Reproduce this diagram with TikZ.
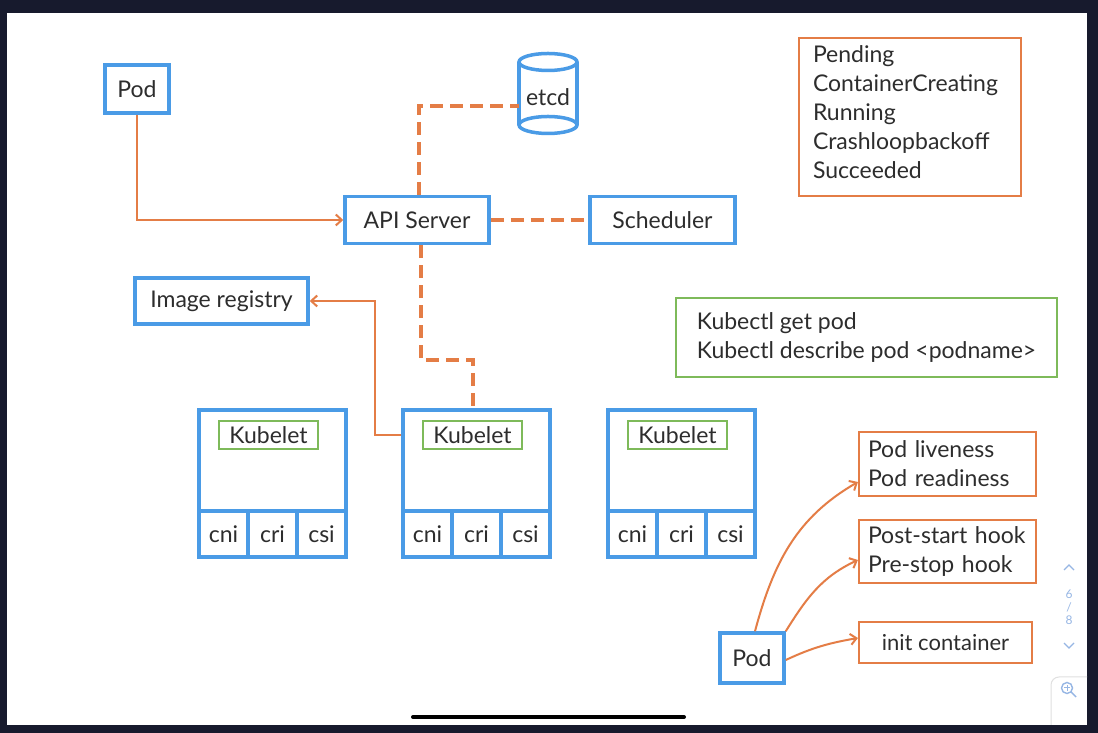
\documentclass[tikz,border=0pt]{standalone}
\usepackage{fontspec}
\setmainfont{Lato}
\usepackage{tikz}
\usetikzlibrary{positioning,calc,arrows.meta}

\definecolor{kblue}{RGB}{74,155,230}
\definecolor{korange}{RGB}{228,125,70}
\definecolor{kgreen}{RGB}{126,186,90}
\definecolor{ktext}{RGB}{45,45,45}
\definecolor{kframe}{RGB}{23,26,45}
\definecolor{kui}{RGB}{150,182,228}

\begin{document}
\begin{tikzpicture}[x=1pt, y=1pt,
  every node/.style={font=\fontsize{23}{29}\selectfont, text=ktext},
  listtext/.style={font=\fontsize{23}{29}\selectfont, align=left},
  bluebox/.style={draw=kblue, line width=3.5pt, rectangle, inner sep=0pt},
  orangebox/.style={draw=korange, line width=2.2pt, rectangle, inner sep=0pt},
  greenbox/.style={draw=kgreen, line width=2.2pt, rectangle, inner sep=0pt},
  dashline/.style={draw=korange, line width=4pt, dash pattern=on 13pt off 7pt},
  thinarrow/.style={draw=korange, line width=2pt, -{Straight Barb[length=6pt,width=11pt]}},
  uitext/.style={font=\fontsize{12}{12}\selectfont, text=kui, inner sep=0pt}]

  % Frame
  \useasboundingbox (0,0) rectangle (1098,733);
  \fill [kframe] (0,0) rectangle (1098,733);
  \fill [white] (7,8) rectangle (1087,720);

  % Nodes
  \node [bluebox, minimum width=64pt, minimum height=48pt] (pod1) at (137,644) {Pod};
  \node [bluebox, minimum width=144pt, minimum height=47pt] (api) at (417,513) {API Server};
  \node [bluebox, minimum width=145pt, minimum height=47pt] (sched) at (662.5,513) {Scheduler};
  \node [bluebox, minimum width=173pt, minimum height=46pt] (reg) at (221.5,432) {Image registry};
  \node [minimum width=58pt, inner sep=0pt] (etcd) at (548,636) {etcd};

  % etcd cylinder
  \draw [kblue, line width=3.5pt] (519,671) -- (519,608) (577,671) -- (577,608);
  \draw [kblue, line width=3.5pt] (548,671) ellipse (29 and 8.5);
  \draw [kblue, line width=3.5pt] (548,608) ellipse (29 and 8.5);

  % Lists
  \node [orangebox, listtext, text width=194pt, inner xsep=14pt, minimum height=158pt] (states) at (910,616)
    {Pending\\ContainerCreating\\Running\\Crashloopbackoff\\Succeeded\par\vspace{9pt}};
  \node [greenbox, listtext, minimum width=381pt, minimum height=79pt] (kubectl) at (866.5,395.5)
    {Kubectl get pod\\Kubectl describe pod <podname>};
  \node [orangebox, listtext, text width=159pt, inner xsep=9pt, minimum height=64pt] (live) at (947.5,269)
    {Pod liveness\\Pod readiness};
  \node [orangebox, listtext, text width=159pt, inner xsep=9pt, minimum height=63pt] (hook) at (947.5,181.5)
    {Post-start hook\\Pre-stop hook};
  \node [orangebox, font=\fontsize{22}{29}\selectfont, minimum width=173pt, minimum height=41pt] (init) at (945.5,90.5) {init container};
  \node [bluebox, minimum width=64pt, minimum height=50pt] (pod2) at (752,75) {Pod};

  % Worker nodes
  \foreach \i/\x in {1/199, 2/403, 3/608} {
    \node [bluebox, minimum width=147pt, minimum height=147pt] (n\i) at (\x+73.5,249.5) {};
    \node [greenbox, minimum width=99pt, minimum height=28pt] (k\i) at (\x+69.5,298) {Kubelet};
    \node [bluebox, minimum width=49pt, minimum height=46pt] (cni\i) at (\x+24.5,199) {cni};
    \node [bluebox, minimum width=49pt, minimum height=46pt] (cri\i) at (\x+73.5,199) {cri};
    \node [bluebox, minimum width=49pt, minimum height=46pt] (csi\i) at (\x+122.5,199) {csi};
  }

  % Arrows
  \draw [thinarrow] (pod1.south) |- (api.west);
  \draw [dashline] ([xshift=2pt]api.north) |- ([yshift=-9pt]etcd.west);
  \draw [dashline] (api.east) -- (sched.west);
  \draw [dashline] ([xshift=4pt]api.south) -- ++(0,-115) -| ([xshift=-3.5pt]n2.north);
  \draw [thinarrow] (n2.west |- k2) -| ([xshift=65pt]reg.east) -- (reg.east);
  \draw [thinarrow] ([xshift=3pt]pod2.north) to [out=75, in=210] ([yshift=-18pt]live.west);
  \draw [thinarrow] (pod2.north east) to [out=58, in=205] ([yshift=-8.5pt]hook.west);
  \draw [thinarrow] ([yshift=-2pt]pod2.east) to [out=25, in=190] ([yshift=4.5pt]init.west);

  % Viewer controls
  \draw [kui, line width=1.2pt] (1064,163) -- (1069,168) -- (1074,163);
  \node [uitext] (pgnum) at (1069,139) {6};
  \node [uitext] (pgsep) at (1069,126) {/};
  \node [uitext] (pgall) at (1069,113) {8};
  \draw [kui, line width=1.2pt] (1064,90) -- (1069,85) -- (1074,90);
  \draw [black!12, line width=1pt, rounded corners=8pt] (1087,56) -- (1051,56) -- (1051,8);
  \draw [kui, line width=1.4pt] (1067,45) circle (5.5) (1071,41) -- (1076,36);
  \draw [kui, line width=1pt] (1064,45) -- (1070,45) (1067,42) -- (1067,48);
  \draw [black, line width=4pt, line cap=round] (413,16) -- (684,16);
\end{tikzpicture}
\end{document}
